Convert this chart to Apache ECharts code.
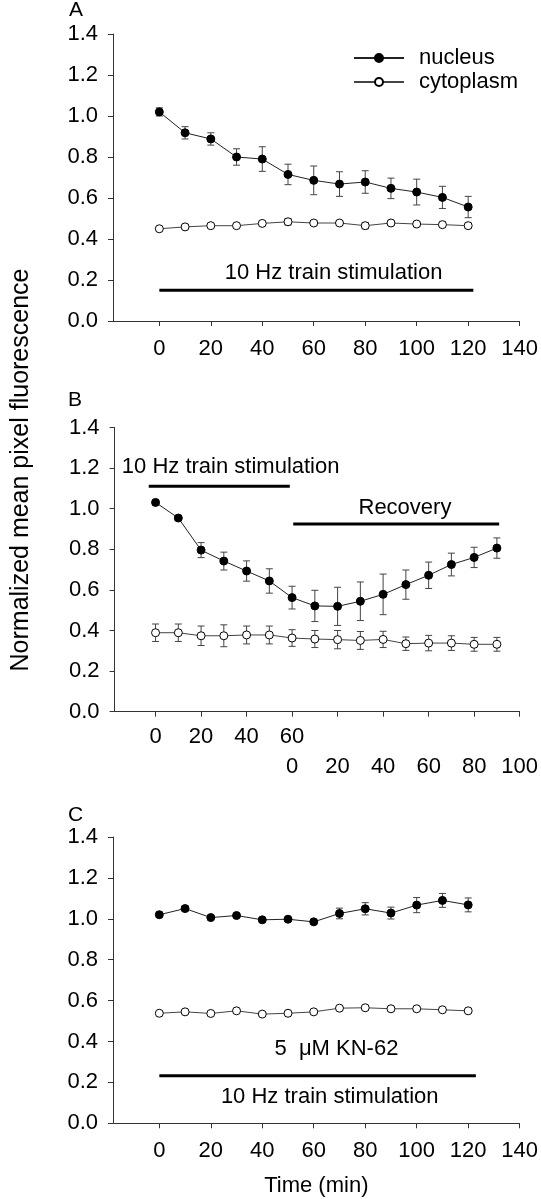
<!DOCTYPE html>
<html>
<head>
<meta charset="utf-8">
<script src="https://cdn.jsdelivr.net/npm/echarts@6/dist/echarts.min.js"></script>
<style>
html,body{margin:0;padding:0;background:#fff;}
#chart{width:541px;height:1199px;}
</style>
</head>
<body>
<div id="chart"></div>
<script>
// ---------- DATA ----------
const timeA = [0,10,20,30,40,50,60,70,80,90,100,110,120];
const nucleusA = [1.02,0.918,0.888,0.80,0.79,0.715,0.686,0.668,0.678,0.647,0.629,0.603,0.556];
const nucleusAErr = [0.02,0.03,0.03,0.04,0.06,0.05,0.07,0.06,0.055,0.05,0.063,0.054,0.052];
const cytoA = [0.45,0.459,0.465,0.465,0.476,0.484,0.478,0.478,0.465,0.478,0.473,0.47,0.465];
const cytoAErr = [0.005,0.006,0.006,0.006,0.008,0.015,0.012,0.012,0.015,0.01,0.012,0.013,0.012];

const timeB = [0,10,20,30,40,50,60,70,80,90,100,110,120,130,140,150];
const nucleusB = [1.031,0.954,0.796,0.742,0.693,0.644,0.562,0.521,0.519,0.544,0.578,0.626,0.672,0.725,0.76,0.806];
const nucleusBErr = [0.012,0.012,0.037,0.044,0.05,0.06,0.056,0.077,0.094,0.095,0.1,0.072,0.065,0.056,0.05,0.05];
const cytoB = [0.389,0.389,0.374,0.374,0.378,0.378,0.363,0.358,0.355,0.351,0.356,0.335,0.338,0.338,0.332,0.332];
const cytoBErr = [0.043,0.043,0.048,0.054,0.044,0.044,0.041,0.042,0.045,0.044,0.04,0.033,0.038,0.036,0.034,0.034];

const timeC = [0,10,20,30,40,50,60,70,80,90,100,110,120];
const nucleusC = [1.02,1.05,1.006,1.016,0.995,0.998,0.985,1.026,1.049,1.028,1.067,1.09,1.068];
const nucleusCErr = [0.012,0.012,0.006,0.006,0.01,0.008,0.007,0.026,0.03,0.029,0.037,0.034,0.034];
const cytoC = [0.538,0.545,0.537,0.55,0.534,0.538,0.545,0.563,0.565,0.56,0.56,0.555,0.55];
const cytoCErr = [0.004,0.004,0.004,0.004,0.004,0.004,0.005,0.01,0.01,0.01,0.01,0.01,0.006];

const ticksAC = [0,20,40,60,80,100,120,140];
const ticksB = [0,20,40,60,80,100,120,140,160];
const labelsBStim = [0,20,40,60];          // stimulation time labels
const labelsBRec = [60,80,100,120,140,160]; // positions of recovery labels
const recoveryOffset = 60;                  // recovery time 0 = stimulation minute 60
const yTicks = [0,0.2,0.4,0.6,0.8,1.0,1.2,1.4];

// horizontal bars: [x1, x2, y]
const barsA = [[0,122,0.15]];
const barsB = [[-3,59,1.11],[60.5,151,0.925]];
const barsC = [[0,123,0.233]];
// text annotations: [x, y, text]
const notesA = [[67.7,0.234,'10 Hz train stimulation']];
const notesB = [[33,1.204,'10 Hz train stimulation'],[109.6,1.003,'Recovery']];
const notesC = [[68.8,0.362,'5  \u03bcM KN-62'],[66.2,0.127,'10 Hz train stimulation']];

// ---------- CHART ----------
const FONT = '"Liberation Sans", Arial, sans-serif';
const AX = '#333';
const chart = echarts.init(document.getElementById('chart'), null, {renderer:'canvas'});

function pairs(xs, ys){ return xs.map((x,i)=>[x, ys[i]]); }
function triples(xs, ys, es){ return xs.map((x,i)=>[x, ys[i], es[i]]); }

function errSeries(gi, xs, ys, es){
  return {
    type:'custom', xAxisIndex:gi, yAxisIndex:gi, z:1, silent:true, clip:false,
    data: triples(xs, ys, es),
    encode:{x:0, y:1},
    renderItem:function(params, api){
      const x = api.value(0), y = api.value(1), e = api.value(2);
      const hi = api.coord([x, y+e]), lo = api.coord([x, y-e]);
      const hw = 3.5, st = {stroke:'#444', lineWidth:1};
      return {type:'group', children:[
        {type:'line', shape:{x1:hi[0],y1:hi[1],x2:lo[0],y2:lo[1]}, style:st},
        {type:'line', shape:{x1:hi[0]-hw,y1:hi[1],x2:hi[0]+hw,y2:hi[1]}, style:st},
        {type:'line', shape:{x1:lo[0]-hw,y1:lo[1],x2:lo[0]+hw,y2:lo[1]}, style:st}
      ]};
    }
  };
}
function nucSeries(gi, xs, ys){
  return {type:'line', name:'nucleus', xAxisIndex:gi, yAxisIndex:gi, z:3,
    data:pairs(xs,ys), symbol:'circle', symbolSize:8, showSymbol:true,
    lineStyle:{color:'#222', width:1}, itemStyle:{color:'#000', borderColor:'#000', borderWidth:1},
    animation:false, emphasis:{disabled:true}};
}
function cytoSeries(gi, xs, ys){
  return {type:'line', name:'cytoplasm', xAxisIndex:gi, yAxisIndex:gi, z:3,
    data:pairs(xs,ys), symbol:'circle', symbolSize:8, showSymbol:true,
    lineStyle:{color:'#444', width:1}, itemStyle:{color:'#fff', borderColor:'#000', borderWidth:1},
    animation:false, emphasis:{disabled:true}};
}
function barSeries(gi, bars){
  return bars.map(b=>({type:'line', xAxisIndex:gi, yAxisIndex:gi, silent:true, z:2,
    data:[[b[0],b[2]],[b[1],b[2]]], symbol:'none', lineStyle:{color:'#000', width:3}, animation:false}));
}
function noteSeries(gi, notes){
  return {type:'custom', xAxisIndex:gi, yAxisIndex:gi, silent:true, clip:false, z:4,
    data:notes.map(n=>[n[0],n[1]]), encode:{x:0,y:1},
    renderItem:function(params, api){
      const p = api.coord([api.value(0), api.value(1)]);
      return {type:'text', x:p[0], y:p[1], style:{text:notes[params.dataIndex][2], fill:'#000',
        font:'22px '+FONT, align:'center', verticalAlign:'middle'}};
    }};
}

function xAxisBase(gi, min, max, ticks, labels, margin){
  return {gridIndex:gi, type:'value', min:min, max:max, position:'bottom',
    axisLine:{onZero:false, lineStyle:{color:AX, width:1}},
    splitLine:{show:false},
    axisTick:{customValues:ticks, length:5, lineStyle:{color:AX}},
    axisLabel:{customValues:labels, fontSize:22, fontFamily:FONT, color:'#000', margin:margin}};
}
function yAxisBase(gi){
  return {gridIndex:gi, type:'value', min:0, max:1.4,
    axisLine:{show:true, onZero:false, lineStyle:{color:AX, width:1}},
    splitLine:{show:false},
    axisTick:{show:true, customValues:yTicks, length:5, lineStyle:{color:AX}},
    axisLabel:{customValues:yTicks, fontSize:22, fontFamily:FONT, color:'#000', margin:15,
      formatter:v=>Number(v).toFixed(1)}};
}

const xAxisC = xAxisBase(2,-18,140,ticksAC,ticksAC,17);
xAxisC.name = 'Time (min)';
xAxisC.nameLocation = 'middle';
xAxisC.nameGap = 52;
xAxisC.nameTextStyle = {fontSize:22, fontFamily:FONT, color:'#000'};

const xAxisBRec = xAxisBase(1,-18,160,[],labelsBRec,44);
xAxisBRec.axisLine = {show:false, onZero:false};
xAxisBRec.axisTick = {show:false};
xAxisBRec.axisLabel.formatter = v => String(v - recoveryOffset);

const option = {
  animation:false,
  backgroundColor:'#fff',
  textStyle:{fontFamily:FONT},
  grid:[
    {left:113, top:34, width:409, height:287},
    {left:114.6, top:427.5, width:409.4, height:284.2},
    {left:113, top:837, width:409, height:286.3}
  ],
  xAxis:[
    xAxisBase(0,-18,140,ticksAC,ticksAC,17),
    xAxisBase(1,-18,160,ticksB,labelsBStim,14),
    xAxisC,
    xAxisBRec
  ],
  yAxis:[yAxisBase(0), yAxisBase(1), yAxisBase(2)],
  legend:{
    orient:'vertical', left:348, top:42, itemWidth:50, itemHeight:10, itemGap:2,
    data:['nucleus','cytoplasm'],
    formatter:name=>'{t|'+name+'}',
    textStyle:{fontSize:22, fontFamily:FONT, color:'#000',
      rich:{t:{fontSize:22, fontFamily:FONT, color:'#000', padding:[0,0,0,10], lineHeight:26}}},
    selectedMode:false
  },
  graphic:[
    {type:'text', left:69, top:0, style:{text:'A', font:'21px '+FONT, fill:'#000'}},
    {type:'text', left:68, top:390, style:{text:'B', font:'21px '+FONT, fill:'#000'}},
    {type:'text', left:68, top:805, style:{text:'C', font:'21px '+FONT, fill:'#000'}},
    {type:'text', x:21, y:470, rotation:Math.PI/2,
      style:{text:'Normalized mean pixel fluorescence', font:'25px '+FONT, fill:'#000', align:'center', verticalAlign:'middle'}}
  ],
  series:[
    errSeries(0,timeA,nucleusA,nucleusAErr), errSeries(0,timeA,cytoA,cytoAErr),
    nucSeries(0,timeA,nucleusA), cytoSeries(0,timeA,cytoA),
    ...barSeries(0,barsA), noteSeries(0,notesA),
    errSeries(1,timeB,nucleusB,nucleusBErr), errSeries(1,timeB,cytoB,cytoBErr),
    nucSeries(1,timeB,nucleusB), cytoSeries(1,timeB,cytoB),
    ...barSeries(1,barsB), noteSeries(1,notesB),
    errSeries(2,timeC,nucleusC,nucleusCErr), errSeries(2,timeC,cytoC,cytoCErr),
    nucSeries(2,timeC,nucleusC), cytoSeries(2,timeC,cytoC),
    ...barSeries(2,barsC), noteSeries(2,notesC)
  ]
};
chart.setOption(option);
</script>
</body>
</html>
